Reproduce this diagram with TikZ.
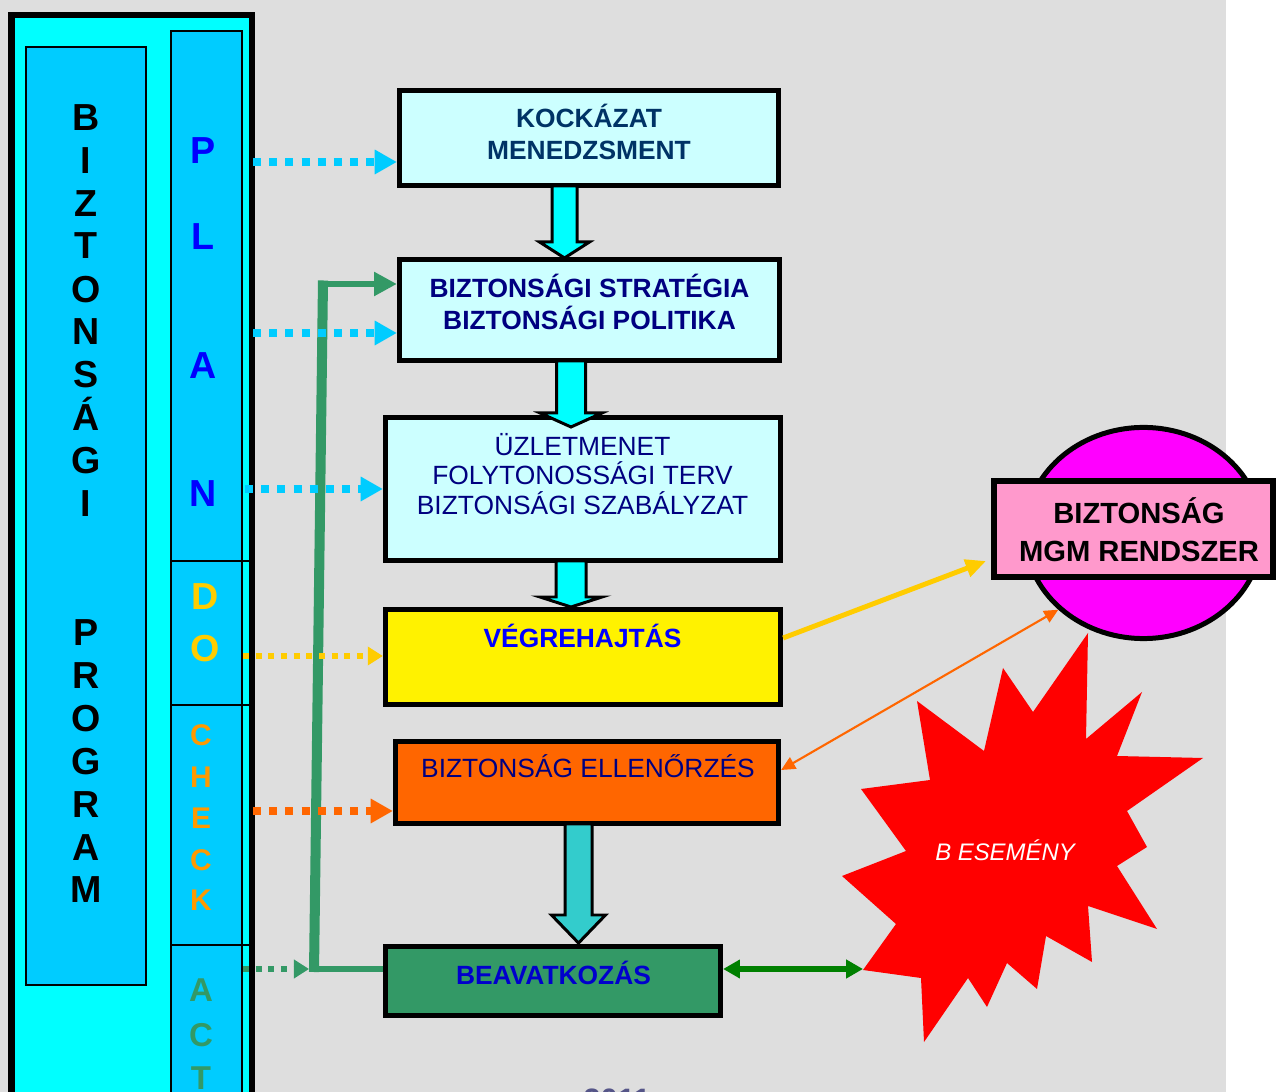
\documentclass[tikz,border=0pt]{standalone}
\usepackage{fontspec}
\setmainfont{Liberation Sans}
\usetikzlibrary{arrows.meta,shapes.geometric}

\definecolor{bggray}{HTML}{DEDEDE}
\definecolor{progcyan}{HTML}{00FFFF}
\definecolor{colblue}{HTML}{00CCFF}
\definecolor{lightcyan}{HTML}{CCFFFF}
\definecolor{navy}{HTML}{000080}
\definecolor{darknavy}{HTML}{003366}
\definecolor{planblue}{HTML}{0000FF}
\definecolor{dogold}{HTML}{FFCC00}
\definecolor{checkorange}{HTML}{FF9900}
\definecolor{actgreen}{HTML}{339966}
\definecolor{ellorange}{HTML}{FF6600}
\definecolor{arrteal}{HTML}{33CCCC}
\definecolor{mgmpink}{HTML}{FF99CC}
\definecolor{mgmmagenta}{HTML}{FF00FF}
\definecolor{dblgreen}{HTML}{008000}
\definecolor{beavblue}{HTML}{0000CC}
\definecolor{yeargray}{HTML}{555588}

\begin{document}
\begin{tikzpicture}[x=0.01cm, y=-0.01cm,
    box/.style={draw=black, line width=1.42pt, inner sep=0pt},
    boxtxt/.style={align=center, inner sep=0pt, font=\fontsize{7.5}{9.1}\selectfont},
    boldtxt/.style={align=center, inner sep=0pt, font=\fontsize{7.5}{9.1}\selectfont\bfseries},
    letter/.style={inner sep=0pt, text height=7.7pt, text depth=0pt, font=\fontsize{10.7}{12}\selectfont\bfseries},
    checkletter/.style={inner sep=0pt, text height=6.1pt, text depth=0pt, text=checkorange, font=\fontsize{8.5}{10}\selectfont\bfseries},
    actletter/.style={inner sep=0pt, text height=6.7pt, text depth=0pt, text=actgreen, font=\fontsize{9.4}{11}\selectfont\bfseries},
    dots/.style={line width=2.3pt, dash pattern=on 2.3pt off 2.3pt, -{Triangle[length=6.3pt,width=6.6pt]}},
    smalldots/.style={line width=1.7pt, dash pattern=on 1.7pt off 1.9pt, -{Triangle[length=4.3pt,width=5.1pt]}},
    blockarr/.style={draw=black, line width=0.85pt, fill=progcyan, line join=miter},
  ]
    \useasboundingbox (0,0) rectangle (1276,1092);
    \clip (0,0) rectangle (1276,1092);
    \fill[bggray] (0,0) rectangle (1226,1092);
    \fill[white] (1226,0) rectangle (1276,1092);

    % program column
    \draw[fill=progcyan, line width=1.85pt] (11.5,15) rectangle (252,1120);
    \draw[fill=colblue, line width=0.57pt] (26,47) rectangle (146,985);
    \draw[fill=colblue, line width=0.57pt] (170.5,31.5) rectangle (242,1120);
    \draw[line width=0.57pt] (170.5,561) -- (249,561);
    \draw[line width=0.57pt] (170.5,705) -- (249,705);
    \draw[line width=0.57pt] (170.5,945) -- (249,945);

    \node[letter] (bz1) at (86,117) {B};
    \node[letter] (bz2) at (86,160) {I};
    \node[letter] (bz3) at (86,203) {Z};
    \node[letter] (bz4) at (86,245) {T};
    \node[letter] (bz5) at (86,289) {O};
    \node[letter] (bz6) at (86,331) {N};
    \node[letter] (bz7) at (86,374) {S};
    \node[letter] (bz8) at (86,417) {Á};
    \node[letter] (bz9) at (86,460) {G};
    \node[letter] (bz10) at (86,503) {I};
    \node[letter] (pg1) at (86,632) {P};
    \node[letter] (pg2) at (86,675) {R};
    \node[letter] (pg3) at (86,718) {O};
    \node[letter] (pg4) at (86,761) {G};
    \node[letter] (pg5) at (86,804) {R};
    \node[letter] (pg6) at (86,847) {A};
    \node[letter] (pg7) at (86,889) {M};

    \node[letter, text=planblue] (plP) at (203,150) {P};
    \node[letter, text=planblue] (plL) at (203,236) {L};
    \node[letter, text=planblue] (plA) at (203,365) {A};
    \node[letter, text=planblue] (plN) at (203,493) {N};
    \node[letter, text=dogold] (doD) at (205,596) {D};
    \node[letter, text=dogold] (doO) at (205,648) {O};
    \node[checkletter] (ch1) at (201,735) {C};
    \node[checkletter] (ch2) at (201,777) {H};
    \node[checkletter] (ch3) at (201,818) {E};
    \node[checkletter] (ch4) at (201,860) {C};
    \node[checkletter] (ch5) at (201,900) {K};
    \node[actletter] (ac1) at (201,990) {A};
    \node[actletter] (ac2) at (201,1035) {C};
    \node[actletter] (ac3) at (201,1078) {T};

    % boxes
    \node[box, fill=lightcyan, minimum width=3.79cm, minimum height=0.95cm] (kock) at (589,138) {};
    \node[box, fill=lightcyan, minimum width=3.80cm, minimum height=1.01cm] (strat) at (589.5,310) {};
    \node[box, fill=lightcyan, minimum width=3.95cm, minimum height=1.43cm] (uzlet) at (583,489) {};
    \node[box, fill=yellow, minimum width=3.95cm, minimum height=0.95cm] (vegre) at (583,657) {};
    \node[box, fill=ellorange, minimum width=3.83cm, minimum height=0.82cm] (ellen) at (587,782.5) {};
    \node[box, fill=actgreen, minimum width=3.35cm, minimum height=0.69cm] (beav) at (553,981) {};

    \node[boldtxt, text=darknavy] (kocktxt) at (589,132) {KOCKÁZAT\\MENEDZSMENT};
    \node[boldtxt, text=navy] (strattxt) at (589.5,302) {BIZTONSÁGI STRATÉGIA\\BIZTONSÁGI POLITIKA};
    \node[boxtxt, text=navy, font=\fontsize{7.5}{8.5}\selectfont] (uzlettxt) at (582.5,474) {ÜZLETMENET\\FOLYTONOSSÁGI TERV\\BIZTONSÁGI SZABÁLYZAT};
    \node[boldtxt, text=planblue] (vegretxt) at (582.5,636) {VÉGREHAJTÁS};
    \node[boxtxt, text=navy] (ellentxt) at (588,766) {BIZTONSÁG ELLENŐRZÉS};
    \node[boldtxt, text=beavblue] (beavtxt) at (553.5,973) {BEAVATKOZÁS};

    % block arrows
    \draw[blockarr] (552,186) -- (552,242) -- (539.5,242) -- (564.5,258) -- (589.5,242) -- (577,242) -- (577,186) -- cycle;
    \draw[blockarr] (556.5,361) -- (556.5,413) -- (540,413) -- (571,427) -- (602,413) -- (585.5,413) -- (585.5,361) -- cycle;
    \draw[blockarr] (556,561) -- (556,597) -- (540,597) -- (571,607) -- (602,597) -- (586,597) -- (586,561) -- cycle;
    \draw[blockarr, fill=arrteal] (565,824) -- (565,915) -- (551.5,915) -- (578.5,943) -- (605.5,915) -- (592,915) -- (592,824) -- cycle;

    % act line back to the strategy
    \coordinate (gbot) at (314,969);
    \coordinate (gtop) at (323,284);
    \draw[actgreen, line width=1.7pt] (beav.west |- gbot) -- (309,969);
    \draw[actgreen, line width=2.85pt] (314,972) -- (323,280.5);
    \draw[actgreen, line width=1.9pt, -{Triangle[length=6.5pt,width=6.5pt]}] (318,284) -- (strat.west |- gtop);

    % dotted arrows from the column
    \coordinate (pdot) at (253,162);
    \coordinate (adot) at (253,333);
    \coordinate (ndot) at (245,489);
    \coordinate (dodot) at (243,656);
    \coordinate (chdot) at (253,811);
    \coordinate (actdot) at (243,969);
    \draw[dots, colblue] (pdot) -- (kock.west |- pdot);
    \draw[dots, colblue] (adot) -- (strat.west |- adot);
    \draw[dots, colblue] (ndot) -- (uzlet.west |- ndot);
    \draw[smalldots, dogold] (dodot) -- (vegre.west |- dodot);
    \draw[dots, ellorange] (chdot) -- (ellen.west |- chdot);
    \draw[smalldots, actgreen] (actdot) -- ([xshift=-1.4pt]gbot);

    % management system
    \node[ellipse, draw, line width=1.42pt, fill=mgmmagenta, minimum width=2.37cm, minimum height=2.11cm, inner sep=0pt] (mgmell) at (1143.5,533) {};
    \node[box, line width=1.7pt, fill=mgmpink, minimum width=2.785cm, minimum height=0.955cm] (mgmbox) at (1133.75,529.25) {};
    \node[align=center, inner sep=0pt, font=\fontsize{8.3}{10.8}\selectfont\bfseries] (mgmtxt) at (1139,530) {BIZTONSÁG\\MGM RENDSZER};

    % event
    \fill[red] (1088,633) -- (1086,739) -- (1142,692) -- (1117,756) -- (1203,758) -- (1127,811)
        -- (1147,847) -- (1117,866) -- (1157,929) -- (1088,906) -- (1092,962) -- (1046,936)
        -- (1037,989) -- (1007,963) -- (987,1007) -- (968,978) -- (924,1042) -- (921,978)
        -- (863,970) -- (896,924) -- (842,876) -- (906,851) -- (861,789) -- (930,780)
        -- (917,701) -- (984,751) -- (1003,668) -- (1033,712) -- cycle;
    \node[inner sep=0pt, text=white, font=\fontsize{6.8}{8}\selectfont\itshape] (esemeny) at (1005,850) {B ESEMÉNY};
    \coordinate (starpt) at (863,969);
    \coordinate (mgmin) at (986,561);

    \draw[dogold, line width=1.4pt, -{Triangle[length=5.8pt,width=5pt]}] ([yshift=0.19cm]vegre.east) -- (mgmin);
    \draw[ellorange, line width=0.6pt, {Triangle[length=4pt,width=3.7pt]}-{Triangle[length=4pt,width=3.7pt]}] ([yshift=0.125cm]ellen.east) -- (mgmell.222);
    \draw[dblgreen, line width=1.7pt, {Triangle[length=4.8pt,width=5.1pt]}-{Triangle[length=4.8pt,width=5.1pt]}] ([yshift=0.12cm]beav.east) -- (starpt);

    \node[anchor=north, inner sep=0pt, text=yeargray, font=\fontsize{8.8}{10}\selectfont\bfseries] (year) at (617,1088) {2011};
\end{tikzpicture}
\end{document}
